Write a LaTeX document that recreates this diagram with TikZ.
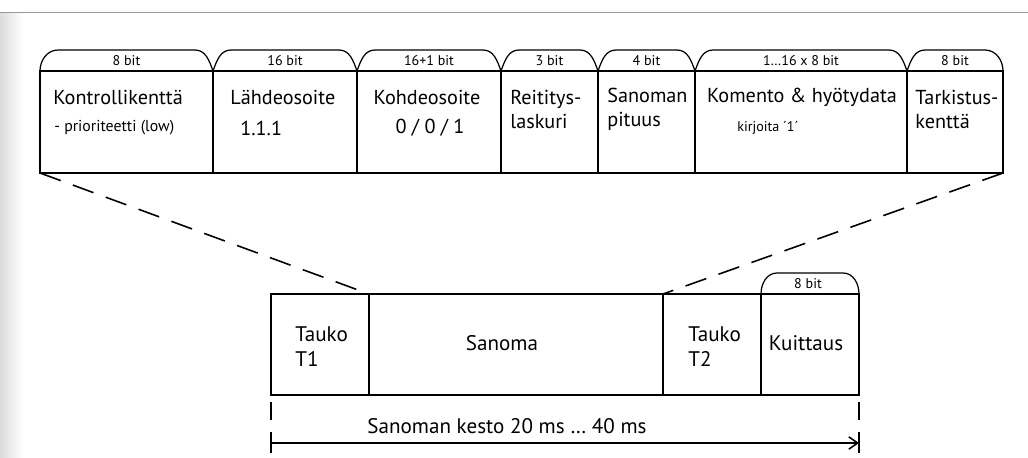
\documentclass[tikz,border=0pt]{standalone}
\usepackage{fontspec}
\setmainfont{PT Sans}
\usetikzlibrary{arrows.meta}
\usetikzlibrary{positioning}

\begin{document}
\begin{tikzpicture}[
  lbl/.style={inner sep=0pt,font=\fontsize{11.5}{14}\selectfont},
  biglbl/.style={inner sep=0pt,font=\fontsize{12}{14}\selectfont},
  bitlbl/.style={inner sep=0pt,font=\fontsize{8}{9}\selectfont},
  smalltxt/.style={inner sep=0pt,font=\fontsize{8}{9}\selectfont},
  frame/.style={line width=0.9pt},
  tab/.style={line width=0.7pt},
  zoomline/.style={line width=0.9pt,dash pattern=on 0.44cm off 0.26cm}]
\useasboundingbox (0,0) rectangle (20.56,9.14);
\shade[left color=black!14,right color=white] (0,0) rectangle (0.45,8.90);
\draw[black!40,line width=0.5pt] (0,8.90) -- (20.56,8.90);

% message frame
\draw[frame] (0.80,5.68) rectangle (20.06,7.72);
\draw[frame] (4.26,5.68) -- (4.26,7.72);
\draw[frame] (7.14,5.68) -- (7.14,7.72);
\draw[frame] (10.02,5.68) -- (10.02,7.72);
\draw[frame] (11.96,5.68) -- (11.96,7.72);
\draw[frame] (13.90,5.68) -- (13.90,7.72);
\draw[frame] (18.14,5.68) -- (18.14,7.72);

\draw[tab] (0.80,7.72) to[out=90,in=180] (1.16,8.14) -- (3.90,8.14) to[out=0,in=110] (4.26,7.72);
\draw[tab] (4.26,7.72) to[out=70,in=180] (4.62,8.14) -- (6.78,8.14) to[out=0,in=110] (7.14,7.72);
\draw[tab] (7.14,7.72) to[out=70,in=180] (7.50,8.14) -- (9.66,8.14) to[out=0,in=110] (10.02,7.72);
\draw[tab] (10.02,7.72) to[out=70,in=180] (10.38,8.14) -- (11.60,8.14) to[out=0,in=110] (11.96,7.72);
\draw[tab] (11.96,7.72) to[out=70,in=180] (12.32,8.14) -- (13.54,8.14) to[out=0,in=110] (13.90,7.72);
\draw[tab] (13.90,7.72) to[out=70,in=180] (14.26,8.14) -- (17.78,8.14) to[out=0,in=110] (18.14,7.72);
\draw[tab] (18.14,7.72) to[out=70,in=180] (18.50,8.14) -- (19.70,8.14) to[out=0,in=90] (20.06,7.72);

\node[bitlbl] (bit1) at (2.53,7.92) {8 bit};
\node[bitlbl] (bit2) at (5.70,7.92) {16 bit};
\node[bitlbl] (bit3) at (8.58,7.92) {16+1 bit};
\node[bitlbl] (bit4) at (10.99,7.92) {3 bit};
\node[bitlbl] (bit5) at (12.93,7.92) {4 bit};
\node[bitlbl] (bit6) at (16.02,7.92) {1…16 x 8 bit};
\node[bitlbl] (bit7) at (19.10,7.92) {8 bit};

\node[lbl,anchor=west] (kontrolli) at (1.06,7.20) {Kontrollikenttä};
\node[smalltxt,font=\fontsize{9}{10}\selectfont,anchor=west] (prioriteetti) at (1.08,6.58) {- prioriteetti (low)};
\node[lbl,anchor=west] (lahde) at (4.60,7.20) {Lähdeosoite};
\node[lbl,anchor=west] (lahdeos) at (4.80,6.58) {1.1.1};
\node[lbl] (kohde) at (8.54,7.20) {Kohdeosoite};
\node[lbl] (kohdeos) at (8.60,6.58) {0 / 0 / 1};
\node[lbl,anchor=west,align=left] (reititys) at (10.20,6.95) {Reititys-\\laskuri};
\node[lbl,anchor=west,align=left] (pituus) at (12.14,6.95) {Sanoman\\pituus};
\node[lbl] (komento) at (16.04,7.20) {Komento \& hyötydata};
\node[smalltxt,anchor=west] (kirjoita) at (14.74,6.58) {kirjoita ´1´};
\node[lbl,anchor=west,align=left] (tarkistus) at (18.30,6.95) {Tarkistus-\\kenttä};

% time line
\draw[frame] (5.42,1.24) rectangle (17.18,3.26);
\draw[frame] (7.38,1.24) -- (7.38,3.26);
\draw[frame] (13.26,1.24) -- (13.26,3.26);
\draw[frame] (15.22,1.24) -- (15.22,3.26);
\draw[tab] (15.22,3.26) to[out=90,in=180] (15.54,3.68) -- (16.86,3.68) to[out=0,in=90] (17.18,3.26);
\node[bitlbl] (bitk) at (16.16,3.46) {8 bit};

\node[biglbl,anchor=west,align=left] (tauko1) at (5.90,2.21) {Tauko\\T1};
\node[biglbl] (sanoma) at (10.04,2.28) {Sanoma};
\node[biglbl,anchor=west,align=left] (tauko2) at (13.76,2.21) {Tauko\\T2};
\node[biglbl] (kuittaus) at (16.12,2.28) {Kuittaus};

\coordinate (kenttaL) at (0.80,5.68);
\coordinate (kenttaR) at (20.06,5.68);
\coordinate (sanomaL) at (7.38,3.26);
\coordinate (sanomaR) at (13.26,3.26);
\draw[zoomline] (kenttaL) -- (sanomaL);
\draw[zoomline] (kenttaR) -- (sanomaR);

\draw[frame] (5.42,0.74) -- (5.42,1.10);
\draw[frame] (17.18,0.74) -- (17.18,1.10);
\draw[frame] (5.42,0.08) -- (5.42,0.50);
\draw[frame] (17.18,0.08) -- (17.18,0.50);
\coordinate (kestoA) at (5.42,0.28);
\coordinate (kestoB) at (17.18,0.28);
\draw[frame,-{Straight Barb[length=5pt,width=7pt]}] (kestoA) -- (kestoB);
\node[biglbl] (kesto) at (10.14,0.62) {Sanoman kesto 20 ms … 40 ms};

\end{tikzpicture}
\end{document}
